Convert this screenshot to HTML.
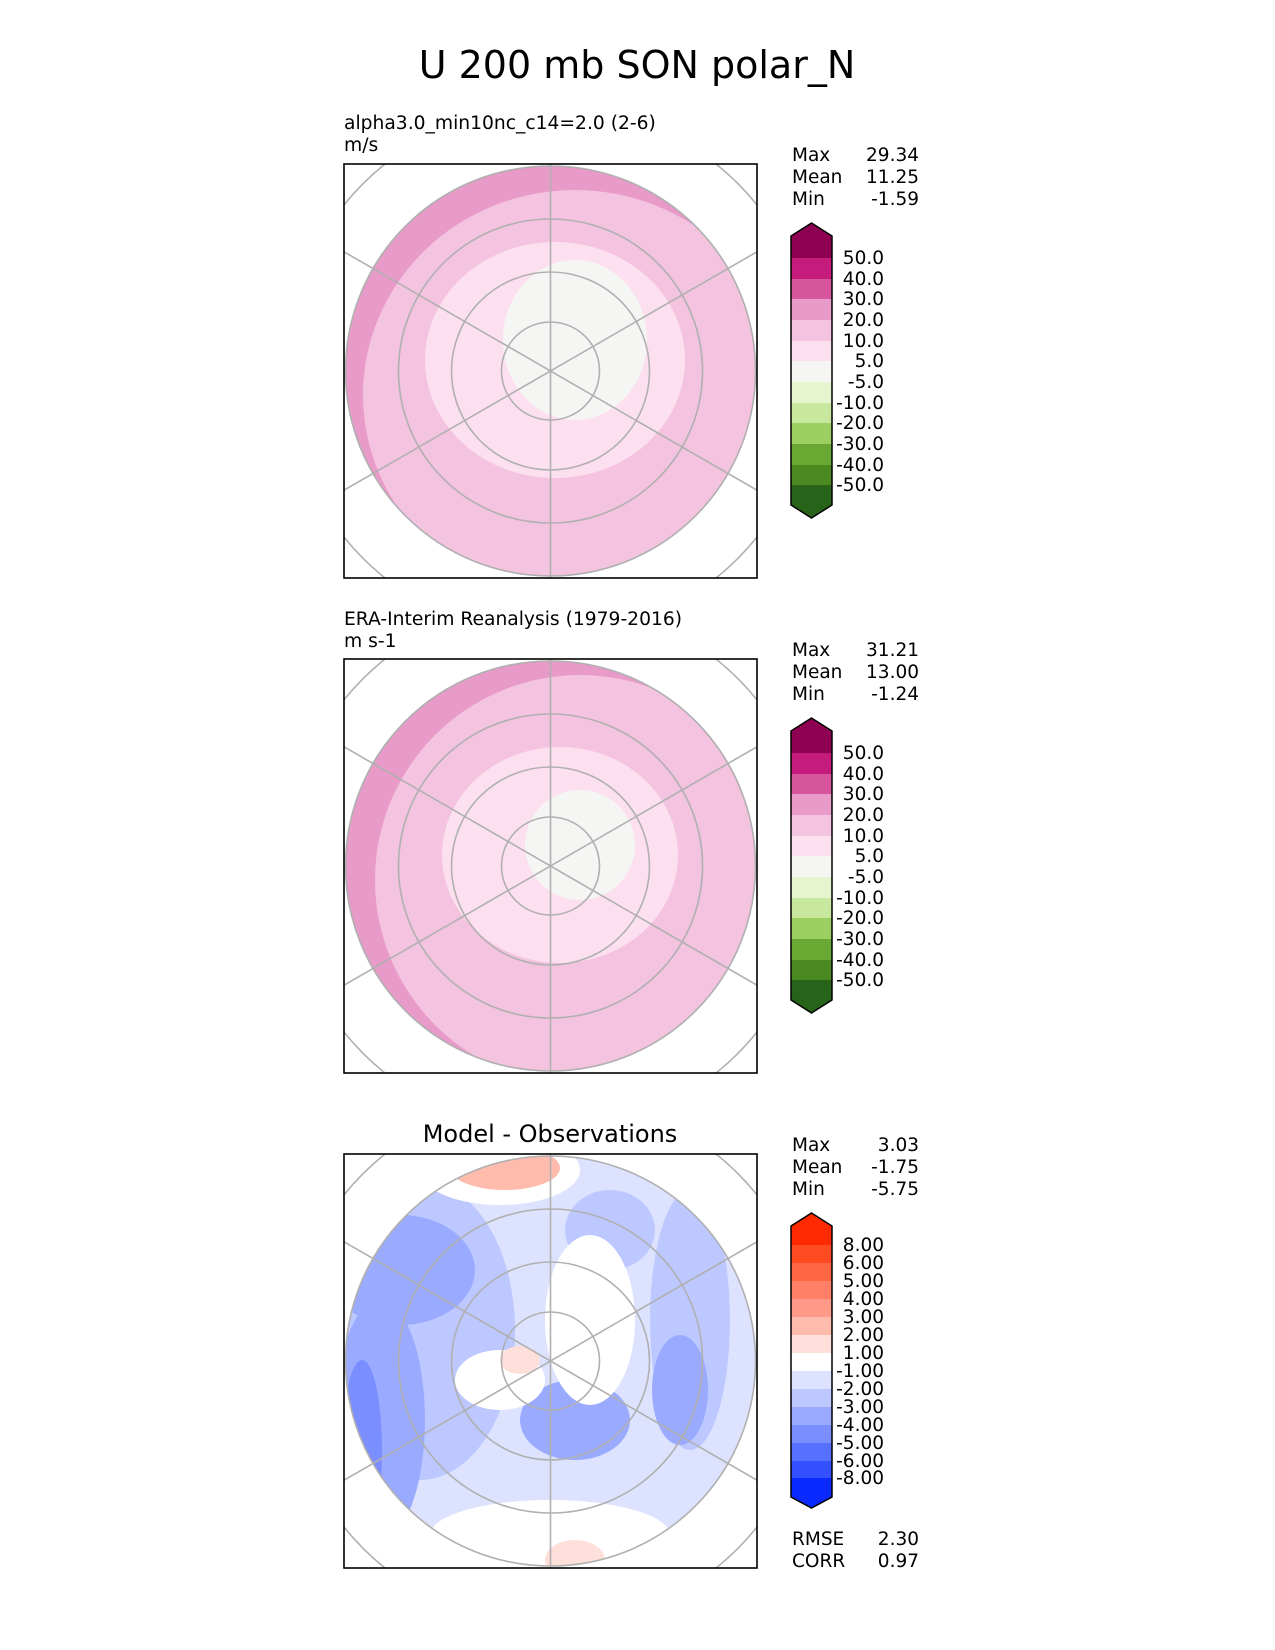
<!DOCTYPE html>
<html><head><meta charset="utf-8"><style>
body{margin:0;background:#fff}
svg{display:block}
text{font-family:"DejaVu Sans","Liberation Sans",sans-serif;fill:#000}
</style></head><body>
<svg width="1275" height="1650" viewBox="0 0 1275 1650" xmlns="http://www.w3.org/2000/svg">
<defs>
<clipPath id="c"><circle cx="550.5" cy="371" r="205"/></clipPath>
<clipPath id="b"><rect x="344" y="164" width="413" height="414"/></clipPath>
<g id="grid">
 <g clip-path="url(#b)" fill="none" stroke="#b0b0b0" stroke-width="1.6">
  <circle cx="550.5" cy="371" r="49"/><circle cx="550.5" cy="371" r="99"/>
  <circle cx="550.5" cy="371" r="152"/><circle cx="550.5" cy="371" r="205"/>
  <circle cx="550.5" cy="371" r="265"/>
  <line x1="550.5" y1="100" x2="550.5" y2="640"/>
  <line x1="250" y1="197.5" x2="851" y2="544.5"/>
  <line x1="250" y1="544.5" x2="851" y2="197.5"/>
 </g>
 <rect x="344" y="164" width="413" height="414" fill="none" stroke="#000" stroke-width="1.6"/>
</g>
</defs>

<text x="637" y="78" font-size="38" text-anchor="middle">U 200 mb SON polar_N</text>

<!-- Panel 1 -->
<text x="344" y="129" font-size="18.7">alpha3.0_min10nc_c14=2.0 (2-6)</text>
<text x="344" y="151" font-size="18.7">m/s</text>
<g clip-path="url(#c)">
 <circle cx="550.5" cy="371" r="205" fill="#e89ac8"/>
 <ellipse cx="575" cy="395" rx="212" ry="205" fill="#f4c3df"/>
 <ellipse cx="555" cy="360" rx="130" ry="118" fill="#fde0ef"/>
 <ellipse cx="575" cy="340" rx="72" ry="80" fill="#f5f5f3"/>
</g>
<use href="#grid"/>

<!-- Panel 2 -->
<text x="344" y="625" font-size="18.7">ERA-Interim Reanalysis (1979-2016)</text>
<text x="344" y="647" font-size="18.7">m s-1</text>
<g transform="translate(0,495)">
<g clip-path="url(#c)">
 <circle cx="550.5" cy="371" r="205" fill="#e89ac8"/>
 <ellipse cx="580" cy="385" rx="205" ry="205" fill="#f4c3df"/>
 <ellipse cx="560" cy="360" rx="118" ry="108" fill="#fde0ef"/>
 <ellipse cx="580" cy="350" rx="55" ry="55" fill="#f5f5f3"/>
</g>
<use href="#grid"/>
</g>

<!-- Panel 3 -->
<text x="550" y="1142" font-size="24" text-anchor="middle">Model - Observations</text>
<g transform="translate(0,990)">
<g clip-path="url(#c)">
 <circle cx="550.5" cy="371" r="205" fill="#dde3ff"/>
 <ellipse cx="420" cy="340" rx="95" ry="150" fill="#bcc8ff"/>
 <ellipse cx="400" cy="280" rx="75" ry="55" fill="#9aabff"/>
 <ellipse cx="380" cy="430" rx="45" ry="120" fill="#9aabff"/>
 <ellipse cx="362" cy="460" rx="20" ry="90" fill="#7a8eff"/>
 <ellipse cx="690" cy="330" rx="40" ry="130" fill="#bcc8ff"/>
 <ellipse cx="680" cy="400" rx="28" ry="55" fill="#9aabff"/>
 <ellipse cx="575" cy="430" rx="55" ry="40" fill="#9aabff"/>
 <ellipse cx="610" cy="240" rx="45" ry="40" fill="#bcc8ff"/>
 <ellipse cx="590" cy="330" rx="45" ry="85" fill="#fff"/>
 <ellipse cx="500" cy="390" rx="45" ry="30" fill="#fff"/>
 <ellipse cx="550" cy="545" rx="120" ry="35" fill="#fff"/>
 <ellipse cx="500" cy="180" rx="80" ry="35" fill="#fff"/>
 <ellipse cx="505" cy="178" rx="55" ry="22" fill="#ffbcad"/>
 <ellipse cx="575" cy="570" rx="30" ry="20" fill="#ffdfd9"/>
 <ellipse cx="520" cy="370" rx="20" ry="14" fill="#ffdfd9"/>
</g>
<use href="#grid"/>
</g>

<!-- stats -->
<g font-size="18.5">
 <text x="792" y="161">Max</text><text x="919" y="161" text-anchor="end">29.34</text>
 <text x="792" y="183">Mean</text><text x="919" y="183" text-anchor="end">11.25</text>
 <text x="792" y="205">Min</text><text x="919" y="205" text-anchor="end">-1.59</text>
 <text x="792" y="656">Max</text><text x="919" y="656" text-anchor="end">31.21</text>
 <text x="792" y="678">Mean</text><text x="919" y="678" text-anchor="end">13.00</text>
 <text x="792" y="700">Min</text><text x="919" y="700" text-anchor="end">-1.24</text>
 <text x="792" y="1151">Max</text><text x="919" y="1151" text-anchor="end">3.03</text>
 <text x="792" y="1173">Mean</text><text x="919" y="1173" text-anchor="end">-1.75</text>
 <text x="792" y="1195">Min</text><text x="919" y="1195" text-anchor="end">-5.75</text>
 <text x="792" y="1545">RMSE</text><text x="919" y="1545" text-anchor="end">2.30</text>
 <text x="792" y="1567">CORR</text><text x="919" y="1567" text-anchor="end">0.97</text>
</g>

<!-- colorbar 1 & 2 -->
<g id="cb1">
 <polygon points="791,236 811.5,223 832,236" fill="#8e0152"/>
 <rect x="791" y="236" width="41" height="22" fill="#8e0152"/>
 <rect x="791" y="258" width="41" height="21" fill="#c51b7d"/>
 <rect x="791" y="279" width="41" height="20" fill="#d6559c"/>
 <rect x="791" y="299" width="41" height="21" fill="#e89ac8"/>
 <rect x="791" y="320" width="41" height="21" fill="#f4c3df"/>
 <rect x="791" y="341" width="41" height="20" fill="#fde0ef"/>
 <rect x="791" y="361" width="41" height="21" fill="#f5f5f3"/>
 <rect x="791" y="382" width="41" height="21" fill="#e6f5d0"/>
 <rect x="791" y="403" width="41" height="20" fill="#c7e89e"/>
 <rect x="791" y="423" width="41" height="21" fill="#9ccf62"/>
 <rect x="791" y="444" width="41" height="21" fill="#6aa834"/>
 <rect x="791" y="465" width="41" height="20" fill="#4b8a20"/>
 <rect x="791" y="485" width="41" height="20" fill="#276419"/>
 <polygon points="791,505 811.5,518 832,505" fill="#276419"/>
 <polygon points="791,236 811.5,223 832,236 832,505 811.5,518 791,505" fill="none" stroke="#000" stroke-width="1.5"/>
 <g font-size="18.5" text-anchor="end">
  <text x="884" y="264">50.0</text><text x="884" y="285">40.0</text><text x="884" y="305">30.0</text>
  <text x="884" y="326">20.0</text><text x="884" y="347">10.0</text><text x="884" y="367">5.0</text>
  <text x="884" y="388">-5.0</text><text x="884" y="409">-10.0</text><text x="884" y="429">-20.0</text>
  <text x="884" y="450">-30.0</text><text x="884" y="471">-40.0</text><text x="884" y="491">-50.0</text>
 </g>
</g>
<use href="#cb1" transform="translate(0,495)"/>

<!-- colorbar 3 -->
<polygon points="791,1226 811.5,1213 832,1226" fill="#ff2a00"/>
<rect x="791" y="1226" width="41" height="19" fill="#ff2a00"/>
<rect x="791" y="1245" width="41" height="18" fill="#ff4a22"/>
<rect x="791" y="1263" width="41" height="18" fill="#ff6644"/>
<rect x="791" y="1281" width="41" height="18" fill="#ff8066"/>
<rect x="791" y="1299" width="41" height="18" fill="#ff9a88"/>
<rect x="791" y="1317" width="41" height="18" fill="#ffbcad"/>
<rect x="791" y="1335" width="41" height="18" fill="#ffdfd9"/>
<rect x="791" y="1353" width="41" height="18" fill="#ffffff"/>
<rect x="791" y="1371" width="41" height="18" fill="#dde3ff"/>
<rect x="791" y="1389" width="41" height="18" fill="#bcc8ff"/>
<rect x="791" y="1407" width="41" height="18" fill="#9aabff"/>
<rect x="791" y="1425" width="41" height="18" fill="#7a8eff"/>
<rect x="791" y="1443" width="41" height="18" fill="#5670ff"/>
<rect x="791" y="1461" width="41" height="17" fill="#3550ff"/>
<rect x="791" y="1478" width="41" height="19" fill="#0a2aff"/>
<polygon points="791,1497 811.5,1508 832,1497" fill="#0a2aff"/>
<polygon points="791,1226 811.5,1213 832,1226 832,1497 811.5,1508 791,1497" fill="none" stroke="#000" stroke-width="1.5"/>
<g font-size="18.5" text-anchor="end">
 <text x="884" y="1251">8.00</text><text x="884" y="1269">6.00</text><text x="884" y="1287">5.00</text>
 <text x="884" y="1305">4.00</text><text x="884" y="1323">3.00</text><text x="884" y="1341">2.00</text>
 <text x="884" y="1359">1.00</text><text x="884" y="1377">-1.00</text><text x="884" y="1395">-2.00</text>
 <text x="884" y="1413">-3.00</text><text x="884" y="1431">-4.00</text><text x="884" y="1449">-5.00</text>
 <text x="884" y="1467">-6.00</text><text x="884" y="1484">-8.00</text>
</g>
</svg>
</body></html>
